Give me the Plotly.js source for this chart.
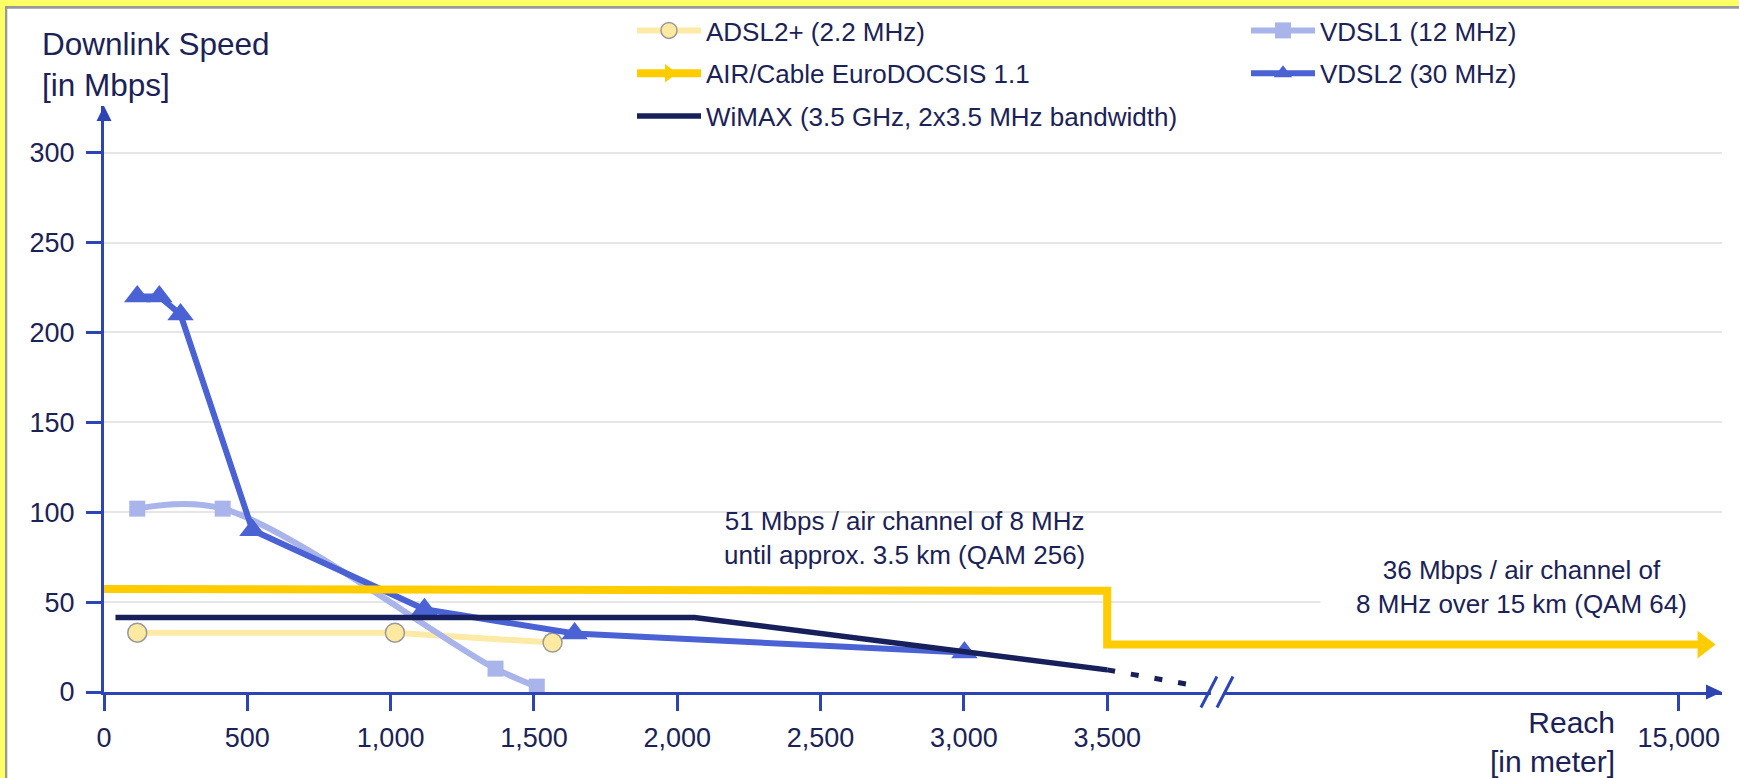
<!DOCTYPE html>
<html><head><meta charset="utf-8">
<script src="https://cdn.plot.ly/plotly-3.0.1.min.js"></script>
<style>html,body{margin:0;padding:0;background:#fff;overflow:hidden}#chart{width:1739px;height:778px}</style>
</head><body><div id="chart"></div>
<script>
// ---- data (reach in meters, speed in Mbps) ----
const adslX = [116, 1015, 1565];
const adslY = [33, 33, 27.5];
const vdsl1X = [116, 414, 1366, 1510];
const vdsl1Y = [102, 102, 13, 3];
const vdsl2X = [116, 193, 267, 518, 1118, 1642, 3002];
const vdsl2Y = [220, 220, 210, 90, 46, 32.5, 22];
const wimaxX = [40, 2060, 3500];
const wimaxY = [41.5, 41.5, 12.3];
const wimaxTailX = [3500, 5120];
const wimaxTailY = [12.3, 4.3];
const cableX = [15500, 3500, 3500, 0];
const cableY = [26.4, 26.4, 56.3, 57.3];
const xTickVals = [0, 500, 1000, 1500, 2000, 2500, 3000, 3500, 15000];
const xTickText = ["0", "500", "1,000", "1,500", "2,000", "2,500", "3,000", "3,500", "15,000"];
const yTickVals = [0, 50, 100, 150, 200, 250, 300];

// ---- broken x axis: linear up to 3500 m, compressed beyond ----
const BREAK = 3500;
const K = (5494 - 3500) / (15000 - 3500);
const bx = v => v <= BREAK ? v : BREAK + (v - BREAK) * K;
const bxs = arr => arr.map(bx);

const W = 1739, H = 778;
const M = {l: 104, r: 17, t: 106, b: 86, autoexpand: false};
const plotW = W - M.l - M.r, plotH = H - M.t - M.b;
const XMAX = 5645, YMAX = 326;
const BRK_A = 3855, BRK_B = 3911;

const NAVY = '#1b2257', AXIS = '#2d44b5';
const FONT = 'Liberation Sans, Arial, Helvetica, sans-serif';
const pX = u => u / XMAX;
const dxp = p => p / plotW;
const dyp = p => p / plotH;
const paperXpx = px => (px - M.l) / plotW;
const paperYpx = py => (H - M.b - py) / plotH;

const traces = [
  {name: 'ADSL2+ (2.2 MHz)', x: bxs(adslX), y: adslY, mode: 'lines+markers', cliponaxis: false,
   line: {color: '#fdeaa6', width: 6}, marker: {symbol: 'circle', size: 19, color: '#fde9a0', line: {color: '#999999', width: 1.5}},
   legend: 'legend', legendgroup: 'a', legendrank: 1},
  {name: 'VDSL1 (12 MHz)', x: bxs(vdsl1X), y: vdsl1Y, mode: 'lines+markers', cliponaxis: false,
   line: {color: '#a9b5ea', width: 6, shape: 'spline', smoothing: 1}, marker: {symbol: 'square', size: 16, color: '#a9b5ea'},
   legend: 'legend2', legendgroup: 'd', legendrank: 1},
  {name: 'VDSL2 (30 MHz)', x: bxs(vdsl2X), y: vdsl2Y, mode: 'lines+markers', cliponaxis: false,
   line: {color: '#4a62d4', width: 6}, marker: {symbol: 'triangle-up', size: 23, color: '#4a62d4'},
   legend: 'legend2', legendgroup: 'e', legendrank: 2},
  {name: 'WiMAX (3.5 GHz, 2x3.5 MHz bandwidth)', x: bxs(wimaxX), y: wimaxY, mode: 'lines', cliponaxis: false,
   line: {color: '#17205a', width: 5.5},
   legend: 'legend', legendgroup: 'c', legendrank: 3},
  {name: 'WiMAX tail', x: bxs(wimaxTailX), y: wimaxTailY, mode: 'lines', cliponaxis: false, showlegend: false,
   line: {color: '#17205a', width: 5, dash: '8px,16px'}, legendgroup: 'c'},
  {name: 'AIR/Cable EuroDOCSIS 1.1', x: bxs(cableX), y: cableY, mode: 'lines+markers', cliponaxis: false,
   line: {color: '#ffcc00', width: 8},
   marker: {symbol: 'triangle-right', size: 24, color: ['#ffcc00', 'rgba(0,0,0,0)', 'rgba(0,0,0,0)', 'rgba(0,0,0,0)']},
   legend: 'legend', legendgroup: 'b', legendrank: 2}
];

const shapes = [
  // top / left frame
  {type: 'rect', xref: 'paper', yref: 'paper', x0: paperXpx(0), x1: paperXpx(W), y0: paperYpx(0), y1: paperYpx(6), fillcolor: '#ffff66', line: {width: 0}, layer: 'above'},
  {type: 'rect', xref: 'paper', yref: 'paper', x0: paperXpx(5), x1: paperXpx(W), y0: paperYpx(6), y1: paperYpx(8.7), fillcolor: '#999999', line: {width: 0}, layer: 'above'},
  {type: 'rect', xref: 'paper', yref: 'paper', x0: paperXpx(0), x1: paperXpx(5), y0: paperYpx(0), y1: paperYpx(H), fillcolor: '#ffff66', line: {width: 0}, layer: 'above'},
  {type: 'rect', xref: 'paper', yref: 'paper', x0: paperXpx(5), x1: paperXpx(7.3), y0: paperYpx(6), y1: paperYpx(H), fillcolor: '#999999', line: {width: 0}, layer: 'above'},
  // axis break
  {type: 'line', xref: 'paper', yref: 'paper', x0: pX(BRK_A) + dxp(2), x1: pX(BRK_B) - dxp(2), y0: 0, y1: 0, line: {color: '#ffffff', width: 6}, layer: 'above'},
  {type: 'line', xref: 'paper', yref: 'paper', x0: pX(BRK_A) - dxp(8), x1: pX(BRK_A) + dxp(8), y0: -dyp(15.5), y1: dyp(15.5), line: {color: AXIS, width: 3}, layer: 'above'},
  {type: 'line', xref: 'paper', yref: 'paper', x0: pX(BRK_B) - dxp(8), x1: pX(BRK_B) + dxp(8), y0: -dyp(15.5), y1: dyp(15.5), line: {color: AXIS, width: 3}, layer: 'above'},
  // axis arrowheads
  {type: 'path', xref: 'paper', yref: 'paper', path: `M1,0 L${1 - dxp(16)},${dyp(7.5)} L${1 - dxp(16)},${-dyp(7.5)} Z`, fillcolor: AXIS, line: {width: 0}, layer: 'above'},
  {type: 'path', xref: 'paper', yref: 'paper', path: `M0,1 L${-dxp(7.5)},${1 - dyp(15)} L${dxp(7.5)},${1 - dyp(15)} Z`, fillcolor: AXIS, line: {width: 0}, layer: 'above'}
];

const annotations = [
  {xref: 'paper', yref: 'paper', x: paperXpx(40), y: paperYpx(24), xanchor: 'left', yanchor: 'top', align: 'left', showarrow: false,
   text: 'Downlink Speed<br>[in Mbps]', font: {family: FONT, size: 31.5, color: NAVY}},
  {xref: 'paper', yref: 'paper', x: paperXpx(1617), y: paperYpx(742), xanchor: 'right', yanchor: 'middle', align: 'right', showarrow: false,
   text: 'Reach<br>[in meter]', font: {family: FONT, size: 30, color: NAVY}},
  {xref: 'paper', yref: 'paper', x: paperXpx(904), y: paperYpx(538), xanchor: 'center', yanchor: 'middle', align: 'center', showarrow: false,
   text: '51 Mbps / air channel of 8 MHz<br>until approx. 3.5 km (QAM 256)', font: {family: FONT, size: 26, color: NAVY}},
  {xref: 'paper', yref: 'paper', x: paperXpx(1521.5), y: paperYpx(587), xanchor: 'center', yanchor: 'middle', align: 'center', showarrow: false,
   text: '36 Mbps / air channel of<br>8 MHz over 15 km (QAM 64)', font: {family: FONT, size: 26, color: NAVY},
   bgcolor: '#ffffff', width: 385, borderpad: 8}
];

const legendBase = {orientation: 'v', xanchor: 'left', yanchor: 'top', bgcolor: 'rgba(0,0,0,0)', borderwidth: 0,
  itemwidth: 64, traceorder: 'grouped', tracegroupgap: 6, font: {family: FONT, size: 26, color: NAVY}};

const layout = {
  width: W, height: H, margin: M,
  paper_bgcolor: '#ffffff', plot_bgcolor: '#ffffff',
  font: {family: FONT, size: 26, color: NAVY},
  showlegend: true,
  legend: Object.assign({}, legendBase, {x: paperXpx(632), y: paperYpx(7)}),
  legend2: Object.assign({}, legendBase, {x: paperXpx(1246), y: paperYpx(7)}),
  xaxis: {range: [0, XMAX], tickvals: xTickVals.map(bx), ticktext: xTickText, showgrid: false, zeroline: false,
    showline: true, linecolor: AXIS, linewidth: 3, ticks: 'outside', ticklen: 16, tickwidth: 3, tickcolor: AXIS,
    ticklabelstandoff: 4, tickfont: {family: FONT, size: 27, color: NAVY}, fixedrange: true},
  yaxis: {range: [0, YMAX], tickvals: yTickVals, showgrid: true, gridcolor: '#e6e6e6', gridwidth: 2, zeroline: false,
    showline: true, linecolor: AXIS, linewidth: 3, ticks: 'outside', ticklen: 15, tickwidth: 3, tickcolor: AXIS,
    ticklabelstandoff: 6, tickfont: {family: FONT, size: 27, color: NAVY}, fixedrange: true},
  shapes: shapes,
  annotations: annotations
};

Plotly.newPlot('chart', traces, layout, {displayModeBar: false, staticPlot: true});
</script>
</body></html>
